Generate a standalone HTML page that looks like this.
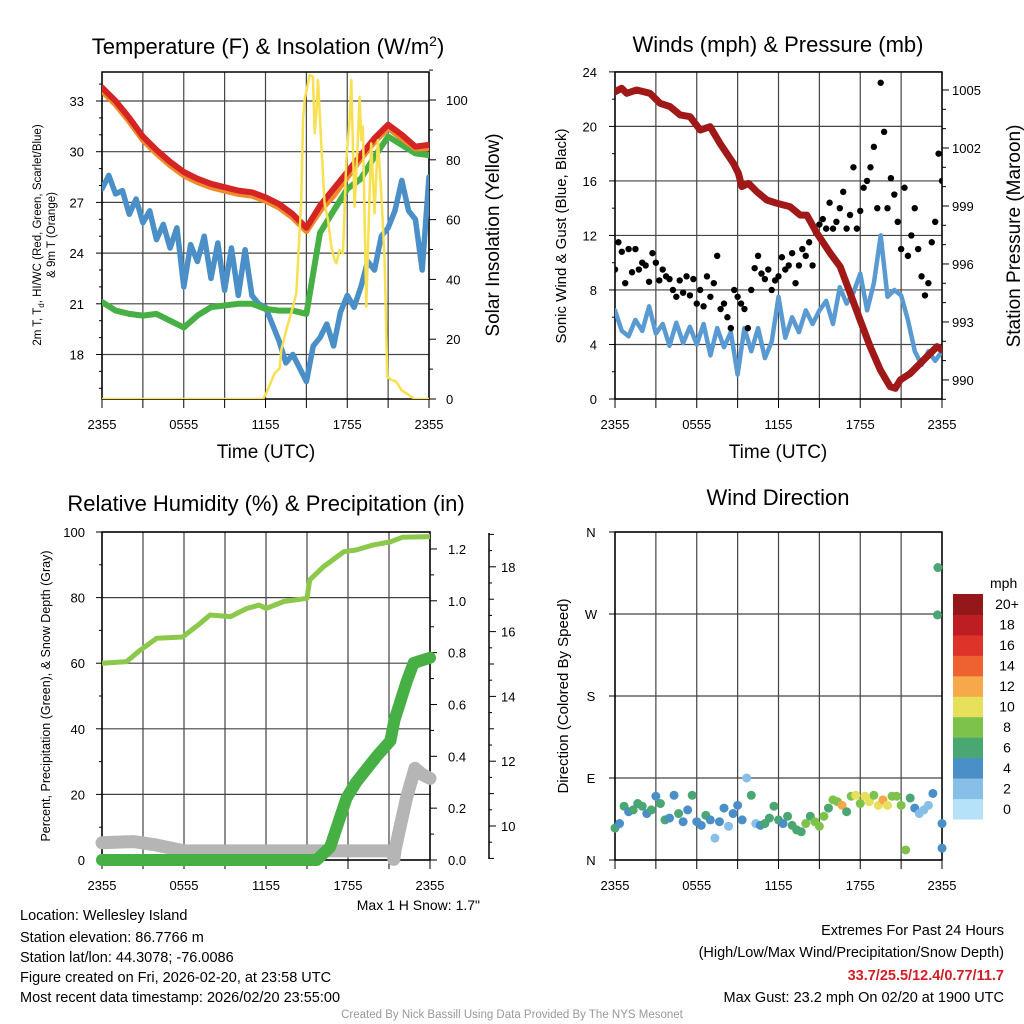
<!DOCTYPE html>
<html><head><meta charset="utf-8"><style>
body{margin:0;background:#fff;}
svg{display:block;font-family:"Liberation Sans",sans-serif;}
</style></head><body>
<svg id="root" width="1024" height="1024" viewBox="0 0 1024 1024" xmlns="http://www.w3.org/2000/svg">
<rect width="1024" height="1024" fill="#fff"/>
<defs>
<clipPath id="c1"><rect x="102" y="72" width="327" height="327"/></clipPath>
<clipPath id="c2"><rect x="615" y="72" width="327" height="327"/></clipPath>
<clipPath id="c3"><rect x="102" y="532" width="328" height="328"/></clipPath>
</defs>
<g id="g1"></g>
<g id="g2"></g>
<g id="g3"></g>
<g id="g4"></g>

<text x="268" y="54" font-size="22" text-anchor="middle">Temperature (F) &amp; Insolation (W/m<tspan dy="-8" font-size="14">2</tspan><tspan dy="8">)</tspan></text>
<text x="778" y="52" font-size="22" text-anchor="middle">Winds (mph) &amp; Pressure (mb)</text>
<text x="266" y="511" font-size="22" text-anchor="middle">Relative Humidity (%) &amp; Precipitation (in)</text>
<text x="778" y="505" font-size="22" text-anchor="middle">Wind Direction</text>

<text x="266" y="458" font-size="19" text-anchor="middle">Time (UTC)</text>
<text x="778" y="458" font-size="19" text-anchor="middle">Time (UTC)</text>

<text transform="translate(41,235) rotate(-90)" font-size="11.5" text-anchor="middle">2m T, T<tspan dy="3" font-size="8">d</tspan><tspan dy="-3">, HI/WC (Red, Green, Scarlet/Blue)</tspan></text>
<text transform="translate(55,235) rotate(-90)" font-size="11.5" text-anchor="middle">&amp; 9m T (Orange)</text>
<text transform="translate(499,235) rotate(-90)" font-size="19" text-anchor="middle">Solar Insolation (Yellow)</text>
<text transform="translate(566,236) rotate(-90)" font-size="15" text-anchor="middle">Sonic Wind &amp; Gust (Blue, Black)</text>
<text transform="translate(1020,236) rotate(-90)" font-size="19" text-anchor="middle">Station Pressure (Maroon)</text>
<text transform="translate(50,696) rotate(-90)" font-size="12.5" text-anchor="middle">Percent, Precipitation (Green), &amp; Snow Depth (Gray)</text>
<text transform="translate(568,696) rotate(-90)" font-size="15" text-anchor="middle">Direction (Colored By Speed)</text>

<text x="480" y="910" font-size="14" text-anchor="end">Max 1 H Snow: 1.7"</text>
<g font-size="14.5">
<text x="20" y="920">Location: Wellesley Island</text>
<text x="20" y="942">Station elevation: 86.7766 m</text>
<text x="20" y="962">Station lat/lon: 44.3078; -76.0086</text>
<text x="20" y="982">Figure created on Fri, 2026-02-20, at 23:58 UTC</text>
<text x="20" y="1002">Most recent data timestamp: 2026/02/20 23:55:00</text>
</g>
<g font-size="14.5" text-anchor="end">
<text x="1004" y="935">Extremes For Past 24 Hours</text>
<text x="1004" y="957">(High/Low/Max Wind/Precipitation/Snow Depth)</text>
<text x="1004" y="980" fill="#d21f26" font-weight="bold">33.7/25.5/12.4/0.77/11.7</text>
<text x="1004" y="1002">Max Gust: 23.2 mph On 02/20 at 1900 UTC</text>
</g>
<text x="512" y="1018" font-size="11.5" fill="#999" text-anchor="middle">Created By Nick Bassill Using Data Provided By The NYS Mesonet</text>
</svg>
<script>
// ---------- data ----------
const hourly = [0,1,2,3,4,5,6,7,8,9,10,11,12,13,14,15,16,17,18,19,20,21,22,23,24];
const tempRed = [33.8,33.0,32.0,30.9,30.1,29.4,28.8,28.4,28.1,27.9,27.7,27.6,27.3,26.9,26.3,25.5,26.8,27.8,28.8,29.8,30.8,31.6,31.0,30.3,30.4];
const tempOrange = [33.6,32.8,31.8,30.7,29.9,29.2,28.6,28.2,27.9,27.7,27.5,27.4,27.1,26.7,26.1,25.3,26.5,27.4,28.5,29.6,30.6,31.4,30.8,30.2,30.2];
const tempGreen = [21.1,20.6,20.4,20.3,20.4,20.0,19.6,20.3,20.8,20.9,21.0,21.0,20.7,20.6,20.6,20.4,25.2,26.5,27.8,28.4,29.7,30.9,30.4,29.9,29.8];
const dewBlue = [27.8,28.6,27.5,27.7,26.3,27.2,25.8,26.5,24.8,25.7,24.3,25.5,22.0,24.5,23.5,25.0,22.5,24.6,21.8,24.3,21.5,24.2,21.5,21.0,20.8,19.8,18.8,17.5,18.0,17.2,16.4,18.5,19.0,19.8,18.5,20.5,21.5,20.8,22.0,23.5,23.0,25.0,25.5,26.5,28.3,26.5,26.0,23.0,28.5];
const solarHours = [0,11.81,12.06,12.67,13.04,13.16,13.53,14.02,14.26,14.63,14.75,14.87,15.24,15.48,15.61,15.73,15.85,16.10,16.34,16.59,16.83,17.07,17.20,17.44,17.69,17.93,18.17,18.30,18.42,18.54,18.79,18.91,19.03,19.15,19.40,19.64,19.76,20.01,20.25,20.50,20.74,20.94,21.23,21.60,21.97,22.33,22.94,24];
const solarValues = [0,0,1.9,8.6,10.3,16.4,23.1,30.9,35.3,66.6,93.3,100,108.4,107.8,88.9,95.5,106.7,84.4,65.4,59.9,50.9,46.5,45.4,49.8,48.7,79.9,93.3,106.7,83.3,64.3,87.7,101.1,86.6,91.1,30.9,68.8,85.5,62.1,86.6,68.8,46.5,7.5,6.4,5.8,3.0,1.9,0,0];
const tempTicks = [18,21,24,27,30,33];
const solarTicks = [0,20,40,60,80,100];
const timeLabels = ["2355","0555","1155","1755","2355"];

const presHours = [0,0.49,0.86,1.59,2.57,3.31,4.04,4.78,5.51,6.25,6.98,7.71,8.69,9.06,9.31,9.80,10.41,11.14,11.88,12.86,13.59,14.08,14.82,15.80,16.53,17.26,17.99,18.73,19.47,20.20,20.57,20.94,21.67,22.65,23.63,24.0];
const presValues = [1004.91,1005.09,1004.83,1005.0,1004.83,1004.31,1004.14,1003.71,1003.62,1002.93,1003.10,1002.24,1001.21,1000.69,1000.0,1000.17,999.74,999.31,999.14,998.96,998.53,998.53,997.59,996.55,995.86,994.48,993.10,991.72,990.52,989.65,989.57,990.0,990.34,991.03,991.72,991.55];
const windValues = [6.5,5.0,4.6,5.8,5.0,6.8,4.8,5.5,3.9,5.6,4.1,5.3,4.0,5.5,3.2,5.2,3.8,4.9,1.8,5.2,3.5,5.2,3.0,4.2,7.5,4.5,6.0,4.9,6.5,5.5,6.5,7.2,5.5,8.2,7.0,7.8,9.2,6.5,8.5,12.0,7.5,8.0,7.6,5.8,3.5,2.5,3.5,2.8,3.5];
const gustValues = [9.5,11.5,10.8,8.5,11,9.3,11,9.5, 10,9.8,8.6,10.7,10,8.7,9.5,9, 8.8,8,7.5,8.7,7.8,9,7.6,8.8, 7,8,6.8,9,7.5,8.5,10.5,6.6, 7,6,5.2,8,7.5,7,6.6,5.2, 8,9.6,10.5,9.2,8.8,9.5,8,8.7, 9,10.4,9.5,9.8,10.7,8.5,9.8,11, 10.5,11.5,9.8,12.2,12.8,13.2,12.5,14.4, 12.5,13,14,15.2,12.5,13.5,17,12.5, 13.8,15.5,16,17,18.5,14,23.2,19.6, 14,16.2,15,13,11,15.5,10.5,12, 14,11,9,7.6,8.5,11.5,13,18, 16];
const windTicks = [0,4,8,12,16,20,24];
const presTicks = [990,993,996,999,1002,1005];

const rhHours = [0,1.8,2.8,4,5.9,7.2,7.9,9.4,10.6,11.5,12,13.3,15,15.2,16.2,17.7,18.6,19.8,21.1,22,24];
const rhValues = [60,60.5,64,67.6,68,72.2,74.7,74.2,76.7,77.7,76.7,78.8,79.8,85.4,89.4,94,94.5,96,97,98.4,98.6];
const precipHours = [0,15.7,16.7,17.9,18.6,20.1,21.1,21.4,22.3,22.8,24];
const precipValues = [0,0,0.05,0.24,0.30,0.40,0.46,0.54,0.69,0.76,0.78];
const snowHours = [0,2.3,4,5.7,6.2,21.2,21.3,21.35,21.45,21.7,22.3,22.9,23.4,24];
const snowValues = [9.48,9.52,9.41,9.26,9.23,9.23,9.26,8.97,9.26,9.77,10.9,11.78,11.6,11.47];
const pctTicks = [0,20,40,60,80,100];
const precipTicks = [0.0,0.2,0.4,0.6,0.8,1.0,1.2];
const snowTicks = [10,12,14,16,18];

const dirValues = [35,40,59,53,55,62,59,51,55,70,62,44,46,71,51,42,55,71,42,38,49,44,24,42,57,37,51,60,44,90,71,40,38,40,46,59,44,40,48,38,33,31,40,48,42,37,48,57,66,64,60,53,70,71,62,70,64,71,60,66,60,70,70,60,11,68,57,51,55,60,73,269,40];
const dirSpeeds = [7,5,7,5,7,6,7,5,7,5,6,7,5,5,7,5,4,6,5,5,6,5,3,5,4,3,5,4,5,3,6,3,5,7,6,7,6,5,7,6,7,6,8,7,8,9,8,7,9,9,12,7,9,10,9,10,11,9,11,12,10,8,9,8,8,6,5,3,3,3,4,7,5];
const extraDirHours = [23.7,24];
const extraDirValues = [321,13];
const extraDirSpeeds = [7,5];
const dirTicks = ["N","E","S","W","N"];
const speedBins = ["0","2","4","6","8","10","12","14","16","18","20+"];
const speedColors = ["#b5e2f8","#86bfe7","#4a8fc7","#4aa773","#7dc24b","#e6e05a","#f6a84a","#ee6130","#dd3429","#bf1d24","#941719"];

// ---------- helpers ----------
const NS="http://www.w3.org/2000/svg";
function mk(parent,tag,attrs){const e=document.createElementNS(NS,tag);for(const k in attrs)e.setAttribute(k,attrs[k]);parent.appendChild(e);return e;}
function path(pts){return pts.map((p,i)=>(i?"L":"M")+p[0].toFixed(1)+" "+p[1].toFixed(1)).join("");}
function grid(g,x0,y0,w,h,xs,ys){
  xs.forEach(x=>{const l=mk(g,"line",{x1:x,y1:y0,x2:x,y2:y0+h,stroke:"#444","stroke-width":1.2});
    
    });
  ys.forEach(y=>{const l=mk(g,"line",{x1:x0,y1:y,x2:x0+w,y2:y,stroke:"#444","stroke-width":1.2});
    
    });
  const r=mk(g,"rect",{x:x0,y:y0,width:w,height:h,fill:"none",stroke:"#000","stroke-width":1.5});
  
  
}
function txt(g,x,y,s,anchor,size,name){const t=mk(g,"text",{x:x,y:y,"font-size":size||13,"text-anchor":anchor||"middle"});t.textContent=s;
  
  return t;}
function tick(g,x1,y1,x2,y2){const l=mk(g,"line",{x1,y1,x2,y2,stroke:"#000","stroke-width":1});
  
  }
function series(g,clip,pts,color,w,name){const a={d:path(pts),fill:"none",stroke:color,"stroke-width":w,"stroke-linejoin":"round","stroke-linecap":"round"};
  if(clip)a["clip-path"]="url(#"+clip+")";
  const p=mk(g,"path",a);
  
  return p;}
const half = i=>i*0.5;

// ---------- panel 1 ----------
(function(){
  const g=document.getElementById("g1");
  const X0=102,W=327,Y0=72,H=327;
  const x=h=>X0+h*W/24, yT=t=>101+(33-t)*16.9, yS=s=>399-s*2.99;
  grid(g,X0,Y0,W,H,[0,3,6,9,12,15,18,21,24].map(x),tempTicks.map(yT));
  for(let t=16;t<=34;t++){tick(g,X0,yT(t),X0-(tempTicks.includes(t)?6:3),yT(t));}
  tempTicks.forEach(t=>txt(g,84,yT(t)+5,String(t),"end",13,"temp-tick-label"));
  for(let s=0;s<=110;s+=10){tick(g,X0+W,yS(s),X0+W+(s%20===0?7:4),yS(s));}
  solarTicks.forEach(s=>txt(g,446,yS(s)+5,String(s),"start",13,"solar-tick-label"));
  [0,3,6,9,12,15,18,21,24].forEach(h=>tick(g,x(h),Y0+H,x(h),Y0+H+9));
  timeLabels.forEach((s,i)=>txt(g,x(i*6),429,s,"middle",13,"time-tick-label"));
  series(g,"c1",dewBlue.map((v,i)=>[x(half(i)),yT(v)]),"#4a8fc7",5.5,"dewpoint-line");
  series(g,"c1",tempGreen.map((v,i)=>[x(hourly[i]),yT(v)]),"#46b045",6,"windchill-line");
  series(g,"c1",tempOrange.map((v,i)=>[x(hourly[i]),yT(v)]),"#f08a2c",6,"9m-temp-line");
  series(g,"c1",tempRed.map((v,i)=>[x(hourly[i]),yT(v)]),"#d42424",6,"2m-temp-line");
  series(g,"c1",solarValues.map((v,i)=>[x(solarHours[i]),yS(v)]),"#f8e050",2.5,"solar-line");
})();

// ---------- panel 2 ----------
(function(){
  const g=document.getElementById("g2");
  const X0=615,W=327,Y0=72,H=327;
  const x=h=>X0+h*W/24, yW=w=>399-w*13.63, yP=p=>90+(1005-p)*19.33;
  grid(g,X0,Y0,W,H,[0,3,6,9,12,15,18,21,24].map(x),windTicks.map(yW));
  for(let w=0;w<=24;w+=2){tick(g,X0,yW(w),X0-(w%4===0?6:3),yW(w));}
  windTicks.forEach(w=>txt(g,597,yW(w)+5,String(w),"end",13,"wind-tick-label"));
  for(let p=989;p<=1005;p++){tick(g,X0+W,yP(p),X0+W+(presTicks.includes(p)?7:4),yP(p));}
  presTicks.forEach(p=>txt(g,952,yP(p)+5,String(p),"start",13,"pressure-tick-label"));
  [0,3,6,9,12,15,18,21,24].forEach(h=>tick(g,x(h),Y0+H,x(h),Y0+H+9));
  timeLabels.forEach((s,i)=>txt(g,x(i*6),429,s,"middle",13,"time-tick-label"));
  series(g,"c2",windValues.map((v,i)=>[x(half(i)),yW(v)]),"#5a9ad2",4.5,"wind-speed-line");
  gustValues.forEach((v,i)=>{const c=mk(g,"circle",{cx:x(i*0.25),cy:yW(v),r:3.2,fill:"#000","clip-path":"url(#c2)"});
    
    });
  series(g,"c2",presValues.map((v,i)=>[x(presHours[i]),yP(v)]),"#a01818",7,"pressure-line");
})();

// ---------- panel 3 ----------
(function(){
  const g=document.getElementById("g3");
  const X0=102,W=328,Y0=532,H=328;
  const x=h=>X0+h*W/24, yR=r=>860-r*3.28, yPr=p=>860-p*259.2, ySn=s=>826-(s-10)*32.4;
  grid(g,X0,Y0,W,H,[0,3,6,9,12,15,18,21,24].map(x),pctTicks.map(yR));
  for(let r=0;r<=100;r+=10){tick(g,X0,yR(r),X0-(r%20===0?6:3),yR(r));}
  pctTicks.forEach(r=>txt(g,85,yR(r)+5,String(r),"end",13,"percent-tick-label"));
  for(let p=0;p<=1.25;p+=0.1){tick(g,X0+W,yPr(p),X0+W+(Math.round(p*10)%2===0?7:4),yPr(p));}
  precipTicks.forEach(p=>txt(g,448,yPr(p)+5,p.toFixed(1),"start",13,"precip-tick-label"));
  const ax=mk(g,"line",{x1:489,y1:533,x2:489,y2:859,stroke:"#000","stroke-width":1.5});
  
  
  for(let s=9;s<=19;s+=0.5){if(ySn(s)>=533&&ySn(s)<=860)tick(g,489,ySn(s),489+(s%2===0?7:(s%1===0?5:3)),ySn(s));}
  snowTicks.forEach(s=>txt(g,501,ySn(s)+5,String(s),"start",13,"snow-tick-label"));
  [0,3,6,9,12,15,18,21,24].forEach(h=>tick(g,x(h),Y0+H,x(h),Y0+H+9));
  timeLabels.forEach((s,i)=>txt(g,x(i*6),890,s,"middle",13,"time-tick-label"));
  series(g,"c3",rhValues.map((v,i)=>[x(rhHours[i]),yR(v)]),"#8cc84b",5,"humidity-line");
  series(g,null,snowValues.map((v,i)=>[x(snowHours[i]),ySn(v)]),"#b5b5b5",13,"snow-depth-line");
  series(g,null,precipValues.map((v,i)=>[x(precipHours[i]),yPr(v)]),"#46b045",12,"precip-line");
})();

// ---------- panel 4 ----------
(function(){
  const g=document.getElementById("g4");
  const X0=615,W=327,Y0=532,H=328;
  const x=h=>X0+h*W/24, yD=d=>860-d*H/360;
  const col=s=>speedColors[Math.min(10,Math.floor(s/2))];
  grid(g,X0,Y0,W,H,[0,3,6,9,12,15,18,21,24].map(x),[0,90,180,270,360].map(yD));
  dirTicks.forEach((s,i)=>{tick(g,X0,yD(i*90),X0-6,yD(i*90));txt(g,591,yD(i*90)+5,s,"middle",13,"direction-tick-label");});
  [0,3,6,9,12,15,18,21,24].forEach(h=>tick(g,x(h),Y0+H,x(h),Y0+H+9));
  timeLabels.forEach((s,i)=>txt(g,x(i*6),890,s,"middle",13,"time-tick-label"));
  dirValues.forEach((d,i)=>{const c=mk(g,"circle",{cx:x(i/3),cy:yD(d),r:4.5,fill:col(dirSpeeds[i])});
    
    });
  extraDirValues.forEach((d,i)=>{const c=mk(g,"circle",{cx:x(extraDirHours[i]),cy:yD(d),r:4.5,fill:col(extraDirSpeeds[i])});
    
    });
  const bx=953,bw=30,top=594,bh=225/11;
  txt(g,990,588,"mph","start",14,"colorbar-title");
  speedBins.forEach((lab,i)=>{
    const yy=top+(10-i)*bh;
    const r=mk(g,"rect",{x:bx,y:yy,width:bw,height:bh+0.5,fill:speedColors[i]});
    
    
    txt(g,1007,yy+bh/2+5,lab,"middle",14,"colorbar-label");
  });
})();
</script>
</body></html>
